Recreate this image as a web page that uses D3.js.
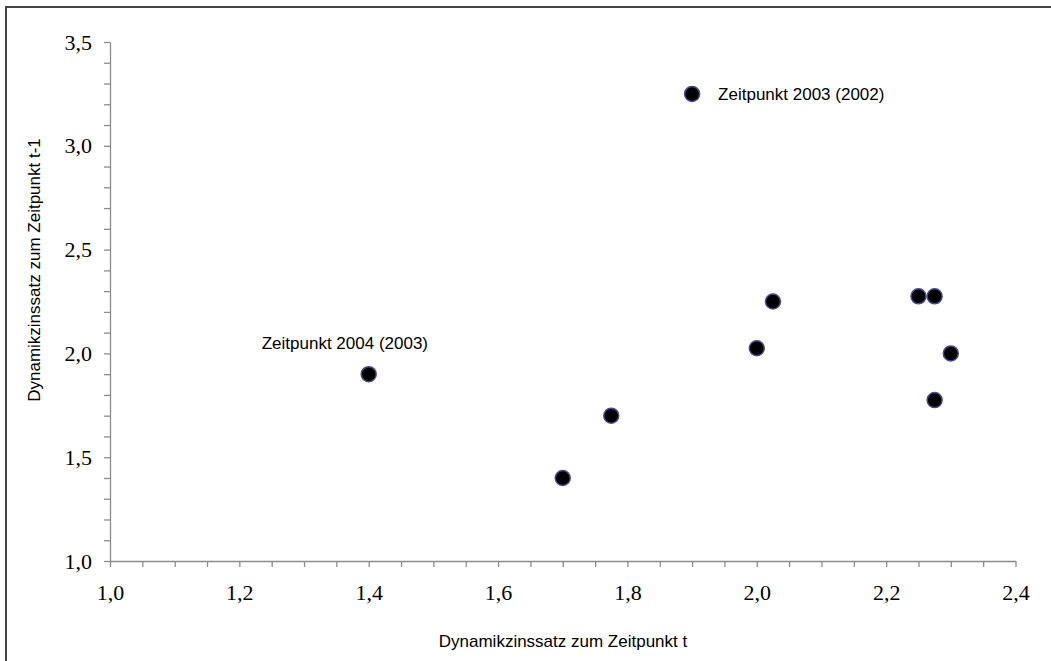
<!DOCTYPE html>
<html>
<head>
<meta charset="utf-8">
<script src="https://cdn.jsdelivr.net/npm/d3@7"></script>
<style>
  html, body { margin: 0; padding: 0; background: #fff; overflow: hidden; }
  svg { display: block; }
  .axis path, .axis line { stroke: #8c8c8c; stroke-width: 1.3px; }
  .axis text { font-family: "Liberation Serif", "Times New Roman", serif; font-size: 22px; fill: #000; }
  .title, .note { font-family: "Liberation Sans", Arial, sans-serif; fill: #000; }
</style>
</head>
<body>
<div id="chart"></div>
<script>
// values: rate at t (x) vs. rate at t-1 (y)
const xValues = [1.4, 1.7, 1.775, 1.9, 2.0, 2.025, 2.25, 2.275, 2.3, 2.275];
const yValues = [1.9, 1.4, 1.7, 3.25, 2.025, 2.25, 2.275, 2.275, 2.0, 1.775];
const pointNotes = ['Zeitpunkt 2004 (2003)', '', '', 'Zeitpunkt 2003 (2002)', '', '', '', '', '', ''];
const xTicks = [1.0, 1.2, 1.4, 1.6, 1.8, 2.0, 2.2, 2.4];
const yTicks = [1.0, 1.5, 2.0, 2.5, 3.0, 3.5];

const xTitle = 'Dynamikzinssatz zum Zeitpunkt t';
const yTitle = 'Dynamikzinssatz zum Zeitpunkt t-1';

const W = 1051, H = 661;
const margin = {top: 42, right: 36, bottom: 100, left: 110};
const width = 1015.5 - margin.left;
const height = 561 - margin.top;

const de = d3.formatLocale({decimal: ',', thousands: '.', grouping: [3], currency: ['', ' €']});
const fmt = de.format('.1f');

const svg = d3.select('#chart').append('svg')
  .attr('width', W)
  .attr('height', H);

// outer frame: only the top and left edges are inside the picture
svg.append('path')
  .attr('d', 'M6,' + H + 'V7H' + W)
  .attr('fill', 'none')
  .attr('stroke', '#444')
  .attr('stroke-width', 2);

const g = svg.append('g')
  .attr('transform', 'translate(' + margin.left + ',' + margin.top + ')');

const x = d3.scaleLinear().domain([1.0, 2.4]).range([0, width]);
const y = d3.scaleLinear().domain([1.0, 3.5]).range([height, 0]);

const near = (v, arr) => arr.some(t => Math.abs(t - v) < 1e-6);

// minor ticks every 0.05 on x, 0.1 on y; labels only on the major ones
const xMinor = d3.range(0, 29).map(i => 1.0 + i * 0.05);
const yMinor = d3.range(0, 26).map(i => 1.0 + i * 0.1);

const xAxis = g.append('g')
  .attr('class', 'axis x')
  .attr('transform', 'translate(0,' + height + ')')
  .call(d3.axisBottom(x)
    .tickValues(xMinor)
    .tickSizeInner(6)
    .tickSizeOuter(0)
    .tickPadding(10)
    .tickFormat(d => near(d, xTicks) ? fmt(d) : ''));
xAxis.selectAll('text').attr('dy', '1.05em');

const yAxis = g.append('g')
  .attr('class', 'axis y')
  .call(d3.axisLeft(y)
    .tickValues(yMinor)
    .tickSizeInner(6)
    .tickSizeOuter(0)
    .tickPadding(12)
    .tickFormat(d => near(d, yTicks) ? fmt(d) : ''));

// points
const pts = xValues.map((v, i) => ({x: v, y: yValues[i], note: pointNotes[i]}));

g.selectAll('.dot')
  .data(pts)
  .enter().append('circle')
  .attr('class', 'dot')
  .attr('cx', d => x(d.x))
  .attr('cy', d => y(d.y))
  .attr('r', 7.5)
  .attr('fill', '#000')
  .attr('stroke', '#4a4a90')
  .attr('stroke-width', 1.5);

// notes on two of the points
g.selectAll('.note')
  .data(pts.filter(d => d.note))
  .enter().append('text')
  .attr('class', 'note')
  .attr('font-size', 17)
  .attr('x', d => d.y > 3 ? x(d.x) + 26 : x(d.x) - 107)
  .attr('y', d => d.y > 3 ? y(d.y) + 6 : y(d.y) - 25)
  .text(d => d.note);

// axis titles
svg.append('text')
  .attr('class', 'title')
  .attr('font-size', 17)
  .attr('text-anchor', 'middle')
  .attr('x', 563)
  .attr('y', 647)
  .text(xTitle);

svg.append('text')
  .attr('class', 'title')
  .attr('font-size', 17)
  .attr('text-anchor', 'middle')
  .attr('transform', 'translate(40,270) rotate(-90)')
  .text(yTitle);
</script>
</body>
</html>
